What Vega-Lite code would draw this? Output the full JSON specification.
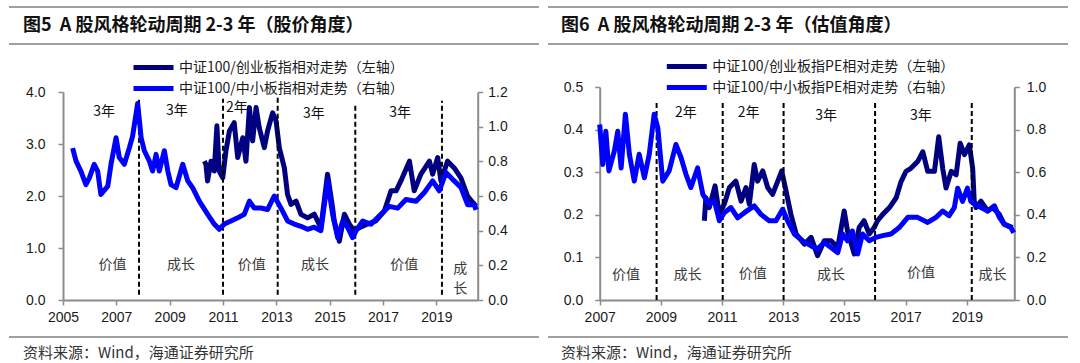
{
  "$schema": "https://vega.github.io/schema/vega-lite/v6.json",
  "padding": {"left": 8, "top": 6, "right": 0, "bottom": 0},
  "bounds": "flush",
  "align": "each",
  "columns": 2,
  "spacing": {"row": 37, "column": 9},
  "resolve": {"scale": {"x": "independent", "y": "independent", "color": "independent"}},
  "config": {
    "view": {"stroke": null},
    "font": "Noto Sans CJK SC",
    "axis": {"domainColor": "#8c8c8c", "domainWidth": 2, "tickColor": "#8c8c8c", "tickWidth": 1.5, "tickSize": 5, "grid": false, "labelFlush": false, "labelOverlap": false, "labelFont": "Liberation Sans", "labelFontSize": 14, "labelColor": "#1a1a1a", "title": null},
    "legend": {"symbolType": "M-2.5,0H2.5", "symbolStrokeWidth": 5, "symbolSize": 256, "labelFont": "Noto Sans CJK SC", "labelFontSize": 14, "labelColor": "#1a1a1a", "labelLimit": 400, "labelOffset": 15, "rowPadding": 0, "padding": 0}
  },
  "datasets": {
    "edges": [{"edge": "top"}, {"edge": "bottom"}],
    "edgeTop": [{"edge": "top"}],
    "p5_cyb": [
      {"t": 2010.30, "v": 2.67}, {"t": 2010.36, "v": 2.61}, {"t": 2010.42, "v": 2.29}, {"t": 2010.55, "v": 2.67}, {"t": 2010.67, "v": 2.48}, {"t": 2010.77, "v": 3.35}, {"t": 2010.86, "v": 2.48}, {"t": 2010.99, "v": 2.35}, {"t": 2011.11, "v": 2.87}, {"t": 2011.24, "v": 3.25}, {"t": 2011.42, "v": 3.41}, {"t": 2011.55, "v": 2.74}, {"t": 2011.74, "v": 3.12}, {"t": 2011.86, "v": 2.67}, {"t": 2011.99, "v": 3.70}, {"t": 2012.11, "v": 3.06}, {"t": 2012.24, "v": 3.70}, {"t": 2012.36, "v": 3.31}, {"t": 2012.55, "v": 2.93}, {"t": 2012.67, "v": 3.25}, {"t": 2012.86, "v": 3.60}, {"t": 2012.99, "v": 3.44}, {"t": 2013.11, "v": 2.93}, {"t": 2013.30, "v": 2.54}, {"t": 2013.42, "v": 2.03}, {"t": 2013.55, "v": 1.84}, {"t": 2013.74, "v": 1.90}, {"t": 2013.92, "v": 1.65}, {"t": 2014.17, "v": 1.58}, {"t": 2014.42, "v": 1.65}, {"t": 2014.67, "v": 1.39}, {"t": 2014.92, "v": 2.42}, {"t": 2015.11, "v": 1.77}, {"t": 2015.17, "v": 1.52}, {"t": 2015.36, "v": 1.13}, {"t": 2015.55, "v": 1.65}, {"t": 2015.74, "v": 1.46}, {"t": 2015.92, "v": 1.33}, {"t": 2016.11, "v": 1.39}, {"t": 2016.42, "v": 1.46}, {"t": 2016.73, "v": 1.52}, {"t": 2017.05, "v": 1.71}, {"t": 2017.30, "v": 2.10}, {"t": 2017.49, "v": 2.10}, {"t": 2017.67, "v": 2.29}, {"t": 2017.99, "v": 2.67}, {"t": 2018.17, "v": 2.10}, {"t": 2018.42, "v": 2.42}, {"t": 2018.74, "v": 2.67}, {"t": 2018.86, "v": 2.42}, {"t": 2019.05, "v": 2.74}, {"t": 2019.17, "v": 2.29}, {"t": 2019.42, "v": 2.67}, {"t": 2019.67, "v": 2.54}, {"t": 2019.92, "v": 2.35}, {"t": 2020.17, "v": 2.00}, {"t": 2020.42, "v": 1.84}, {"t": 2020.50, "v": 1.87}
    ],
    "p5_zxb": [
      {"t": 2005.36, "v": 0.876}, {"t": 2005.49, "v": 0.801}, {"t": 2005.67, "v": 0.744}, {"t": 2005.86, "v": 0.666}, {"t": 2005.99, "v": 0.705}, {"t": 2006.17, "v": 0.783}, {"t": 2006.30, "v": 0.744}, {"t": 2006.42, "v": 0.609}, {"t": 2006.68, "v": 0.657}, {"t": 2006.80, "v": 0.783}, {"t": 2006.99, "v": 0.936}, {"t": 2007.11, "v": 0.822}, {"t": 2007.30, "v": 0.783}, {"t": 2007.49, "v": 0.879}, {"t": 2007.61, "v": 0.945}, {"t": 2007.80, "v": 1.134}, {"t": 2007.93, "v": 0.936}, {"t": 2008.05, "v": 0.861}, {"t": 2008.24, "v": 0.801}, {"t": 2008.36, "v": 0.744}, {"t": 2008.49, "v": 0.840}, {"t": 2008.61, "v": 0.744}, {"t": 2008.80, "v": 0.861}, {"t": 2008.93, "v": 0.744}, {"t": 2009.05, "v": 0.666}, {"t": 2009.24, "v": 0.648}, {"t": 2009.49, "v": 0.783}, {"t": 2009.68, "v": 0.687}, {"t": 2009.86, "v": 0.648}, {"t": 2010.11, "v": 0.570}, {"t": 2010.42, "v": 0.495}, {"t": 2010.67, "v": 0.438}, {"t": 2010.86, "v": 0.408}, {"t": 2011.05, "v": 0.438}, {"t": 2011.30, "v": 0.456}, {"t": 2011.55, "v": 0.474}, {"t": 2011.80, "v": 0.495}, {"t": 2011.99, "v": 0.570}, {"t": 2012.17, "v": 0.531}, {"t": 2012.42, "v": 0.531}, {"t": 2012.67, "v": 0.522}, {"t": 2012.92, "v": 0.600}, {"t": 2013.17, "v": 0.531}, {"t": 2013.42, "v": 0.456}, {"t": 2013.67, "v": 0.438}, {"t": 2013.92, "v": 0.425}, {"t": 2014.17, "v": 0.408}, {"t": 2014.42, "v": 0.420}, {"t": 2014.67, "v": 0.400}, {"t": 2014.92, "v": 0.687}, {"t": 2015.11, "v": 0.495}, {"t": 2015.30, "v": 0.360}, {"t": 2015.49, "v": 0.456}, {"t": 2015.68, "v": 0.417}, {"t": 2015.86, "v": 0.360}, {"t": 2015.99, "v": 0.400}, {"t": 2016.24, "v": 0.456}, {"t": 2016.55, "v": 0.437}, {"t": 2016.92, "v": 0.495}, {"t": 2017.23, "v": 0.540}, {"t": 2017.55, "v": 0.530}, {"t": 2017.86, "v": 0.580}, {"t": 2018.24, "v": 0.570}, {"t": 2018.55, "v": 0.620}, {"t": 2018.86, "v": 0.687}, {"t": 2019.11, "v": 0.630}, {"t": 2019.36, "v": 0.735}, {"t": 2019.67, "v": 0.687}, {"t": 2019.92, "v": 0.650}, {"t": 2020.17, "v": 0.550}, {"t": 2020.42, "v": 0.550}, {"t": 2020.49, "v": 0.520}
    ],
    "p5_rules": [
      {"x": 2007.85, "y0": 0.1, "y1": 3.85}, {"x": 2011.0, "y0": 0.1, "y1": 3.87}, {"x": 2013.05, "y0": 0.1, "y1": 3.89}, {"x": 2015.96, "y0": 0.1, "y1": 3.79}, {"x": 2019.21, "y0": 0.1, "y1": 3.83}
    ],
    "p5_top": [
      {"x": 2006.54, "y": 3.62, "label": "3年"}, {"x": 2009.27, "y": 3.63, "label": "3年"}, {"x": 2011.52, "y": 3.70, "label": "2年"}, {"x": 2014.41, "y": 3.58, "label": "3年"}, {"x": 2017.64, "y": 3.60, "label": "3年"}
    ],
    "p5_bottom": [
      {"x": 2006.86, "y": 0.67, "label": "价值"}, {"x": 2009.42, "y": 0.67, "label": "成长"}, {"x": 2012.08, "y": 0.67, "label": "价值"}, {"x": 2014.45, "y": 0.67, "label": "成长"}, {"x": 2017.80, "y": 0.67, "label": "价值"}, {"x": 2019.90, "y": 0.60, "label": "成\n长"}
    ],
    "p6_cyb": [
      {"t": 2010.42, "v": 0.186}, {"t": 2010.47, "v": 0.240}, {"t": 2010.58, "v": 0.217}, {"t": 2010.77, "v": 0.268}, {"t": 2010.91, "v": 0.201}, {"t": 2011.07, "v": 0.225}, {"t": 2011.24, "v": 0.264}, {"t": 2011.45, "v": 0.279}, {"t": 2011.62, "v": 0.232}, {"t": 2011.78, "v": 0.264}, {"t": 2011.89, "v": 0.225}, {"t": 2012.05, "v": 0.318}, {"t": 2012.16, "v": 0.279}, {"t": 2012.33, "v": 0.303}, {"t": 2012.49, "v": 0.264}, {"t": 2012.65, "v": 0.248}, {"t": 2012.82, "v": 0.279}, {"t": 2012.95, "v": 0.303}, {"t": 2013.09, "v": 0.256}, {"t": 2013.25, "v": 0.201}, {"t": 2013.42, "v": 0.155}, {"t": 2013.69, "v": 0.131}, {"t": 2013.91, "v": 0.147}, {"t": 2014.12, "v": 0.104}, {"t": 2014.34, "v": 0.139}, {"t": 2014.56, "v": 0.139}, {"t": 2014.78, "v": 0.123}, {"t": 2014.99, "v": 0.209}, {"t": 2015.10, "v": 0.162}, {"t": 2015.32, "v": 0.108}, {"t": 2015.48, "v": 0.170}, {"t": 2015.64, "v": 0.186}, {"t": 2015.81, "v": 0.155}, {"t": 2015.97, "v": 0.170}, {"t": 2016.08, "v": 0.186}, {"t": 2016.25, "v": 0.201}, {"t": 2016.47, "v": 0.217}, {"t": 2016.69, "v": 0.240}, {"t": 2016.85, "v": 0.278}, {"t": 2017.01, "v": 0.302}, {"t": 2017.17, "v": 0.309}, {"t": 2017.39, "v": 0.325}, {"t": 2017.56, "v": 0.348}, {"t": 2017.72, "v": 0.302}, {"t": 2017.94, "v": 0.302}, {"t": 2018.08, "v": 0.383}, {"t": 2018.21, "v": 0.309}, {"t": 2018.32, "v": 0.263}, {"t": 2018.49, "v": 0.302}, {"t": 2018.65, "v": 0.294}, {"t": 2018.78, "v": 0.368}, {"t": 2018.92, "v": 0.341}, {"t": 2019.08, "v": 0.364}, {"t": 2019.19, "v": 0.309}, {"t": 2019.24, "v": 0.232}, {"t": 2019.30, "v": 0.217}, {"t": 2019.46, "v": 0.232}, {"t": 2019.68, "v": 0.209}, {"t": 2019.84, "v": 0.217}, {"t": 2020.06, "v": 0.201}, {"t": 2020.22, "v": 0.178}, {"t": 2020.49, "v": 0.170}
    ],
    "p6_zxb": [
      {"t": 2007.00, "v": 0.824}, {"t": 2007.10, "v": 0.636}, {"t": 2007.20, "v": 0.792}, {"t": 2007.30, "v": 0.606}, {"t": 2007.48, "v": 0.700}, {"t": 2007.59, "v": 0.792}, {"t": 2007.70, "v": 0.620}, {"t": 2007.84, "v": 0.872}, {"t": 2007.97, "v": 0.684}, {"t": 2008.13, "v": 0.558}, {"t": 2008.29, "v": 0.684}, {"t": 2008.46, "v": 0.574}, {"t": 2008.62, "v": 0.684}, {"t": 2008.78, "v": 0.872}, {"t": 2008.90, "v": 0.808}, {"t": 2009.06, "v": 0.558}, {"t": 2009.27, "v": 0.606}, {"t": 2009.49, "v": 0.730}, {"t": 2009.66, "v": 0.668}, {"t": 2009.82, "v": 0.590}, {"t": 2009.98, "v": 0.528}, {"t": 2010.20, "v": 0.620}, {"t": 2010.37, "v": 0.496}, {"t": 2010.58, "v": 0.450}, {"t": 2010.75, "v": 0.464}, {"t": 2010.91, "v": 0.372}, {"t": 2011.07, "v": 0.410}, {"t": 2011.29, "v": 0.434}, {"t": 2011.51, "v": 0.386}, {"t": 2011.73, "v": 0.410}, {"t": 2012.05, "v": 0.442}, {"t": 2012.27, "v": 0.402}, {"t": 2012.54, "v": 0.372}, {"t": 2012.76, "v": 0.372}, {"t": 2012.98, "v": 0.426}, {"t": 2013.14, "v": 0.372}, {"t": 2013.36, "v": 0.310}, {"t": 2013.63, "v": 0.278}, {"t": 2013.91, "v": 0.254}, {"t": 2014.12, "v": 0.240}, {"t": 2014.34, "v": 0.270}, {"t": 2014.56, "v": 0.246}, {"t": 2014.78, "v": 0.222}, {"t": 2014.94, "v": 0.310}, {"t": 2015.10, "v": 0.278}, {"t": 2015.26, "v": 0.324}, {"t": 2015.43, "v": 0.216}, {"t": 2015.59, "v": 0.310}, {"t": 2015.81, "v": 0.278}, {"t": 2016.03, "v": 0.294}, {"t": 2016.25, "v": 0.302}, {"t": 2016.52, "v": 0.310}, {"t": 2016.79, "v": 0.340}, {"t": 2017.07, "v": 0.388}, {"t": 2017.39, "v": 0.388}, {"t": 2017.72, "v": 0.364}, {"t": 2017.99, "v": 0.388}, {"t": 2018.21, "v": 0.418}, {"t": 2018.42, "v": 0.396}, {"t": 2018.59, "v": 0.434}, {"t": 2018.70, "v": 0.525}, {"t": 2018.86, "v": 0.463}, {"t": 2019.02, "v": 0.525}, {"t": 2019.13, "v": 0.463}, {"t": 2019.24, "v": 0.450}, {"t": 2019.46, "v": 0.434}, {"t": 2019.68, "v": 0.418}, {"t": 2019.90, "v": 0.442}, {"t": 2020.06, "v": 0.388}, {"t": 2020.22, "v": 0.356}, {"t": 2020.44, "v": 0.340}, {"t": 2020.53, "v": 0.316}
    ],
    "p6_rules": [
      {"x": 2008.86, "y0": 0.0, "y1": 0.468}, {"x": 2011.02, "y0": 0.0, "y1": 0.468}, {"x": 2013.01, "y0": 0.0, "y1": 0.468}, {"x": 2016.0, "y0": 0.0, "y1": 0.468}, {"x": 2019.16, "y0": 0.0, "y1": 0.468}
    ],
    "p6_top": [
      {"x": 2009.82, "y": 0.439, "label": "2年"}, {"x": 2011.87, "y": 0.439, "label": "2年"}, {"x": 2014.40, "y": 0.432, "label": "3年"}, {"x": 2017.50, "y": 0.432, "label": "3年"}
    ],
    "p6_bottom": [
      {"x": 2007.86, "y": 0.059, "label": "价值"}, {"x": 2009.88, "y": 0.059, "label": "成长"}, {"x": 2012.00, "y": 0.062, "label": "价值"}, {"x": 2014.56, "y": 0.059, "label": "成长"}, {"x": 2017.50, "y": 0.064, "label": "价值"}, {"x": 2019.84, "y": 0.059, "label": "成长"}
    ]
  },
  "concat": [
    {
      "width": 530, "height": 37,
      "layer": [
        {
          "data": {"name": "edges"},
          "mark": {"type": "rule", "color": "#808080", "strokeWidth": 1.5},
          "encoding": {"y": {"field": "edge", "type": "nominal", "scale": {"type": "point", "domain": ["top", "middle", "bottom"], "padding": 0}, "axis": null}}
        },
        {
          "data": {"values": [{"label": "图5\u00a0\u00a0A 股风格轮动周期 2-3 年（股价角度）"}]},
          "mark": {"type": "text", "align": "left", "baseline": "middle", "dx": 14, "fontSize": 18, "fontWeight": "bold", "color": "#111111"},
          "encoding": {
            "x": {"datum": "start", "type": "nominal", "scale": {"type": "point", "domain": ["start", "end"], "padding": 0}, "axis": null},
            "y": {"datum": "middle", "type": "nominal"},
            "text": {"field": "label"}
          }
        }
      ]
    },
    {
      "width": 520, "height": 37,
      "layer": [
        {
          "data": {"name": "edges"},
          "mark": {"type": "rule", "color": "#808080", "strokeWidth": 1.5},
          "encoding": {"y": {"field": "edge", "type": "nominal", "scale": {"type": "point", "domain": ["top", "middle", "bottom"], "padding": 0}, "axis": null}}
        },
        {
          "data": {"values": [{"label": "图6\u00a0\u00a0A 股风格轮动周期 2-3 年（估值角度）"}]},
          "mark": {"type": "text", "align": "left", "baseline": "middle", "dx": 13, "fontSize": 18, "fontWeight": "bold", "color": "#111111"},
          "encoding": {
            "x": {"datum": "start", "type": "nominal", "scale": {"type": "point", "domain": ["start", "end"], "padding": 0}, "axis": null},
            "y": {"datum": "middle", "type": "nominal"},
            "text": {"field": "label"}
          }
        }
      ]
    },
    {
      "width": 530, "height": 219,
      "resolve": {"scale": {"y": "independent"}},
      "layer": [
        {
          "layer": [
            {
              "data": {"name": "p5_cyb"},
              "mark": {"type": "line", "strokeWidth": 5, "strokeJoin": "round"},
              "encoding": {
                "x": {"field": "t", "type": "quantitative", "scale": {"domain": [2005, 2020.55], "range": [54, 468.7], "nice": false, "zero": false}, "axis": {"values": [2005, 2007, 2009, 2011, 2013, 2015, 2017, 2019], "format": "d", "labelPadding": 5}},
                "y": {"field": "v", "type": "quantitative", "scale": {"domain": [0, 4], "range": [219, 11], "nice": false}, "axis": {"orient": "left", "offset": -54, "values": [0, 0.5, 1, 1.5, 2, 2.5, 3, 3.5, 4], "format": ".1f", "labelPadding": 13}},
                "color": {"datum": "中证100/创业板指相对走势（左轴）", "type": "nominal", "scale": {"domain": ["中证100/创业板指相对走势（左轴）", "中证100/中小板指相对走势（右轴）"], "range": ["#000080", "#0000ff"]}, "legend": {"title": null, "orient": "none", "legendX": 134, "legendY": -24}}
              }
            },
            {
              "data": {"name": "p5_rules"},
              "mark": {"type": "rule", "color": "#000000", "strokeWidth": 2, "strokeDash": [5, 3]},
              "encoding": {
                "x": {"field": "x", "type": "quantitative"},
                "y": {"field": "y0", "type": "quantitative"},
                "y2": {"field": "y1"}
              }
            },
            {
              "data": {"name": "p5_top"},
              "mark": {"type": "text", "fontSize": 14, "color": "#111111", "align": "center", "baseline": "middle"},
              "encoding": {
                "x": {"field": "x", "type": "quantitative"},
                "y": {"field": "y", "type": "quantitative"},
                "text": {"field": "label"}
              }
            },
            {
              "data": {"name": "p5_bottom"},
              "mark": {"type": "text", "fontSize": 14, "color": "#3a3a3a", "align": "center", "baseline": "middle", "lineBreak": "\n", "lineHeight": 20},
              "encoding": {
                "x": {"field": "x", "type": "quantitative"},
                "y": {"field": "y", "type": "quantitative"},
                "text": {"field": "label"}
              }
            }
          ]
        },
        {
          "data": {"name": "p5_zxb"},
          "mark": {"type": "line", "strokeWidth": 5, "strokeJoin": "round"},
          "encoding": {
            "x": {"field": "t", "type": "quantitative"},
            "y": {"field": "v", "type": "quantitative", "scale": {"domain": [0, 1.2], "range": [219, 11], "nice": false}, "axis": {"orient": "right", "offset": -61.3, "values": [0, 0.2, 0.4, 0.6, 0.8, 1.0, 1.2], "format": ".1f", "labelPadding": 5}},
            "color": {"datum": "中证100/中小板指相对走势（右轴）", "type": "nominal"}
          }
        }
      ]
    },
    {
      "width": 520, "height": 219,
      "resolve": {"scale": {"y": "independent"}},
      "layer": [
        {
          "layer": [
            {
              "data": {"name": "p6_cyb"},
              "mark": {"type": "line", "strokeWidth": 5, "strokeJoin": "round"},
              "encoding": {
                "x": {"field": "t", "type": "quantitative", "scale": {"domain": [2007, 2020.55], "range": [51.7, 466.3], "nice": false, "zero": false}, "axis": {"values": [2007, 2009, 2011, 2013, 2015, 2017, 2019], "format": "d", "labelPadding": 5}},
                "y": {"field": "v", "type": "quantitative", "scale": {"domain": [0, 0.5], "range": [219, 6], "nice": false}, "axis": {"orient": "left", "offset": -51.7, "values": [0, 0.1, 0.2, 0.3, 0.4, 0.5], "format": ".1f", "labelPadding": 12}},
                "color": {"datum": "中证100/创业板指PE相对走势（左轴）", "type": "nominal", "scale": {"domain": ["中证100/创业板指PE相对走势（左轴）", "中证100/中小板指PE相对走势（右轴）"], "range": ["#000080", "#0000ff"]}, "legend": {"title": null, "orient": "none", "legendX": 128.3, "legendY": -25}}
              }
            },
            {
              "data": {"name": "p6_rules"},
              "mark": {"type": "rule", "color": "#000000", "strokeWidth": 2, "strokeDash": [5, 3]},
              "encoding": {
                "x": {"field": "x", "type": "quantitative"},
                "y": {"field": "y0", "type": "quantitative"},
                "y2": {"field": "y1"}
              }
            },
            {
              "data": {"name": "p6_top"},
              "mark": {"type": "text", "fontSize": 14, "color": "#111111", "align": "center", "baseline": "middle"},
              "encoding": {
                "x": {"field": "x", "type": "quantitative"},
                "y": {"field": "y", "type": "quantitative"},
                "text": {"field": "label"}
              }
            },
            {
              "data": {"name": "p6_bottom"},
              "mark": {"type": "text", "fontSize": 14, "color": "#3a3a3a", "align": "center", "baseline": "middle"},
              "encoding": {
                "x": {"field": "x", "type": "quantitative"},
                "y": {"field": "y", "type": "quantitative"},
                "text": {"field": "label"}
              }
            }
          ]
        },
        {
          "data": {"name": "p6_zxb"},
          "mark": {"type": "line", "strokeWidth": 5, "strokeJoin": "round"},
          "encoding": {
            "x": {"field": "t", "type": "quantitative"},
            "y": {"field": "v", "type": "quantitative", "scale": {"domain": [0, 1.0], "range": [219, 6], "nice": false}, "axis": {"orient": "right", "offset": -53.7, "values": [0, 0.2, 0.4, 0.6, 0.8, 1.0], "format": ".1f", "labelPadding": 7}},
            "color": {"datum": "中证100/中小板指PE相对走势（右轴）", "type": "nominal"}
          }
        }
      ]
    },
    {
      "width": 530, "height": 32,
      "layer": [
        {
          "data": {"name": "edgeTop"},
          "mark": {"type": "rule", "color": "#808080", "strokeWidth": 1.5},
          "encoding": {"y": {"field": "edge", "type": "nominal", "scale": {"type": "point", "domain": ["top", "middle", "bottom"], "padding": 0}, "axis": null}}
        },
        {
          "data": {"values": [{"label": "资料来源：Wind，海通证券研究所"}]},
          "mark": {"type": "text", "align": "left", "baseline": "middle", "dx": 14, "fontSize": 15, "color": "#333333"},
          "encoding": {
            "x": {"datum": "start", "type": "nominal", "scale": {"type": "point", "domain": ["start", "end"], "padding": 0}, "axis": null},
            "y": {"datum": "middle", "type": "nominal"},
            "text": {"field": "label"}
          }
        }
      ]
    },
    {
      "width": 520, "height": 32,
      "layer": [
        {
          "data": {"name": "edgeTop"},
          "mark": {"type": "rule", "color": "#808080", "strokeWidth": 1.5},
          "encoding": {"y": {"field": "edge", "type": "nominal", "scale": {"type": "point", "domain": ["top", "middle", "bottom"], "padding": 0}, "axis": null}}
        },
        {
          "data": {"values": [{"label": "资料来源：Wind，海通证券研究所"}]},
          "mark": {"type": "text", "align": "left", "baseline": "middle", "dx": 13, "fontSize": 15, "color": "#333333"},
          "encoding": {
            "x": {"datum": "start", "type": "nominal", "scale": {"type": "point", "domain": ["start", "end"], "padding": 0}, "axis": null},
            "y": {"datum": "middle", "type": "nominal"},
            "text": {"field": "label"}
          }
        }
      ]
    }
  ]
}
